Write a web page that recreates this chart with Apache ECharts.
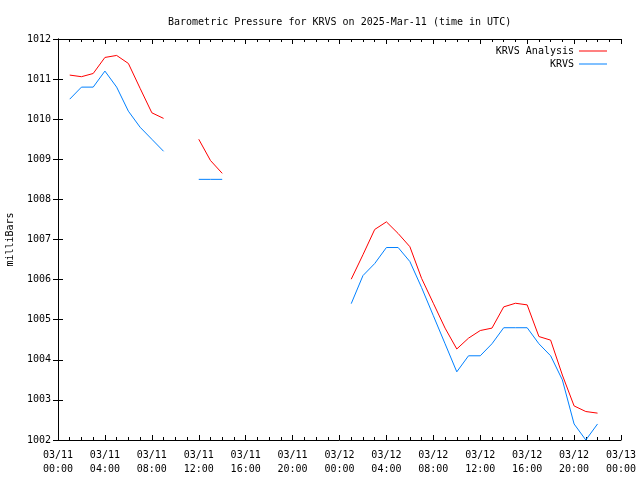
<!DOCTYPE html>
<html>
<head>
<meta charset="utf-8">
<script src="https://cdn.jsdelivr.net/npm/echarts@6/dist/echarts.min.js"></script>
<style>html,body{margin:0;padding:0;background:#fff}#c{width:640px;height:480px}</style>
</head>
<body>
<div id="c"></div>
<script>
// Hours since 03/11 00:00 UTC
var hours = [1,2,3,4,5,6,7,8,9,10,11,12,13,14,15,16,17,18,19,20,21,22,23,24,25,26,27,28,29,30,31,32,33,34,35,36,37,38,39,40,41,42,43,44,45,46];
var analysis = [1011.10,1011.06,1011.14,1011.54,1011.59,1011.39,1010.77,1010.16,1010.02,null,null,1009.50,1008.97,1008.65,
  null,null,null,null,null,null,null,null,null,null,
  1006.01,1006.62,1007.25,1007.44,1007.15,1006.82,1006.03,1005.41,1004.79,1004.27,1004.54,1004.73,1004.79,1005.32,1005.41,1005.37,1004.58,1004.49,1003.62,1002.85,1002.71,1002.67];
var observed = [1010.5,1010.8,1010.8,1011.2,1010.8,1010.2,1009.8,1009.5,1009.2,null,null,1008.5,1008.5,1008.5,
  null,null,null,null,null,null,null,null,null,null,
  1005.4,1006.1,1006.4,1006.8,1006.8,1006.45,1005.8,1005.1,1004.4,1003.7,1004.1,1004.1,1004.4,1004.8,1004.8,1004.8,1004.4,1004.1,1003.5,1002.4,1002.0,1002.4];
var xTickLabels = ['03/11\n00:00','03/11\n04:00','03/11\n08:00','03/11\n12:00','03/11\n16:00','03/11\n20:00','03/12\n00:00','03/12\n04:00','03/12\n08:00','03/12\n12:00','03/12\n16:00','03/12\n20:00','03/13\n00:00'];
var seriesNames = ['KRVS Analysis','KRVS'];
var seriesColors = ['#ff0000','#0080ff'];

function pairs(vals){ return hours.map(function(h,i){ return [h, vals[i]]; }); }

var FONT = 'DejaVu Sans Mono';
var chart = echarts.init(document.getElementById('c'), null, {renderer:'canvas'});
var axisLine = {show:true, lineStyle:{color:'#000', width:1}};
chart.setOption({
  animation:false,
  backgroundColor:'#fff',
  title:{text:'Barometric Pressure for KRVS on 2025-Mar-11 (time in UTC)', left:163, top:12,
    textStyle:{fontFamily:FONT, fontSize:10, fontWeight:'normal', color:'#000'}},
  legend:[
    {data:[seriesNames[0]], right:28, top:41, align:'right', icon:'rect', itemWidth:28, itemHeight:1,
      textStyle:{fontFamily:FONT, fontSize:10, color:'#000'}},
    {data:[seriesNames[1]], right:28, top:54, align:'right', icon:'rect', itemWidth:28, itemHeight:1,
      textStyle:{fontFamily:FONT, fontSize:10, color:'#000'}}
  ],
  grid:{left:58, right:19, top:39, bottom:40, containLabel:false, outerBoundsMode:'none'},
  xAxis:[
    {type:'value', min:0, max:48, interval:4, position:'bottom',
      axisLine:axisLine, axisTick:{show:true, inside:true, length:5, lineStyle:{color:'#000'}},
      minorTick:{show:true, splitNumber:4, length:3, lineStyle:{color:'#000'}},
      splitLine:{show:false},
      axisLabel:{fontFamily:FONT, fontSize:10, color:'#000', lineHeight:14, margin:8, hideOverlap:false,
        formatter:function(v){ return xTickLabels[Math.round(v/4)]; }}},
    {type:'value', min:0, max:48, interval:4, position:'top',
      axisLine:axisLine, axisTick:{show:true, inside:true, length:5, lineStyle:{color:'#000'}},
      minorTick:{show:true, splitNumber:4, length:3, lineStyle:{color:'#000'}},
      splitLine:{show:false}, axisLabel:{show:false}}
  ],
  yAxis:[
    {type:'value', min:1002, max:1012, interval:1, position:'left',
      name:'milliBars', nameLocation:'middle', nameRotate:90, nameGap:43,
      nameTextStyle:{fontFamily:FONT, fontSize:10, color:'#000'},
      axisLine:axisLine, axisTick:{show:true, inside:true, length:5, lineStyle:{color:'#000'}},
      splitLine:{show:false},
      axisLabel:{fontFamily:FONT, fontSize:10, color:'#000', margin:7,
        formatter:function(v){ return String(v); }}},
    {type:'value', min:1002, max:1012, interval:1, position:'right',
      axisLine:axisLine, axisTick:{show:true, inside:true, length:5, lineStyle:{color:'#000'}},
      splitLine:{show:false}, axisLabel:{show:false}}
  ],
  series:[
    {name:seriesNames[0], type:'line', data:pairs(analysis), symbol:'none', connectNulls:false,
      lineStyle:{color:seriesColors[0], width:1}, itemStyle:{color:seriesColors[0]}},
    {name:seriesNames[1], type:'line', data:pairs(observed), symbol:'none', connectNulls:false,
      lineStyle:{color:seriesColors[1], width:1}, itemStyle:{color:seriesColors[1]}}
  ]
});
</script>
</body>
</html>
